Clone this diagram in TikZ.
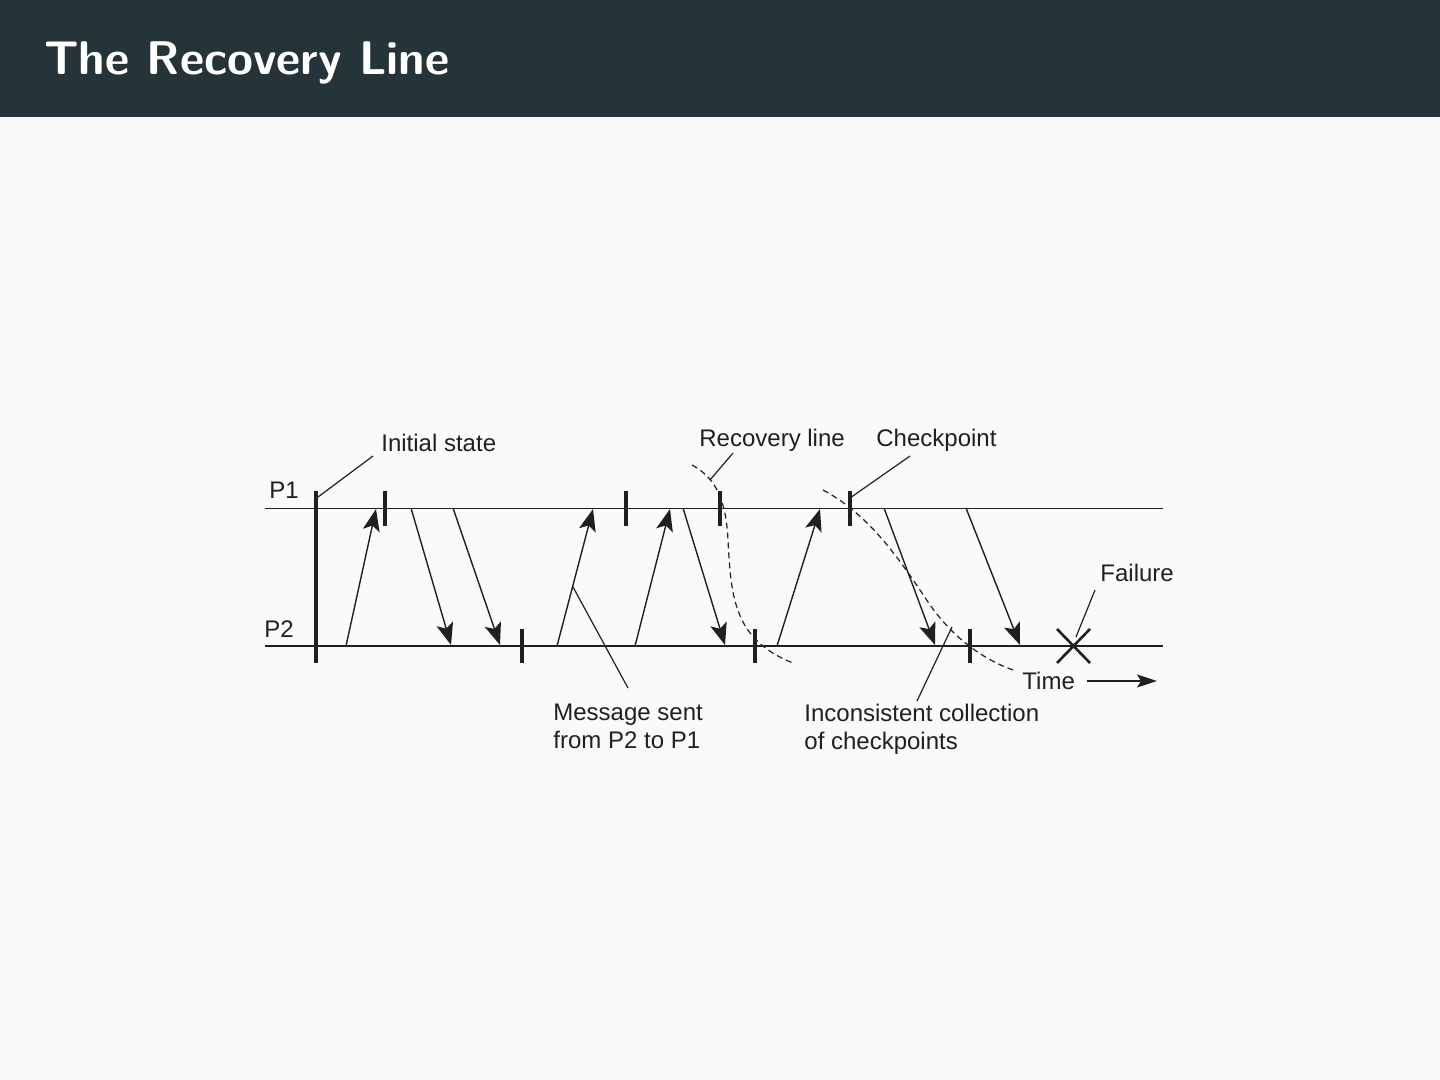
\documentclass[tikz,border=0pt]{standalone}
\usepackage{fontspec}
\setmainfont{Liberation Sans}
\usetikzlibrary{arrows.meta}
\definecolor{barbg}{HTML}{253439}
\definecolor{pagebg}{HTML}{FAFAFA}
\definecolor{ink}{HTML}{231F20}
\begin{document}
\begin{tikzpicture}[x=0.5pt,y=-0.5pt,
  lbl/.style={inner sep=0pt,font=\fontsize{12}{14}\selectfont,text=ink},
  proc/.style={draw=ink,line width=0.5pt},
  proc2/.style={draw=ink,line width=1pt},
  ckpt/.style={draw=ink,line width=1.8pt},
  msg/.style={draw=ink,line width=0.7pt,-{Stealth[length=11pt,width=8.5pt,inset=2.5pt]}},
  lead/.style={draw=ink,line width=0.6pt},
  cut/.style={draw=ink,line width=0.6pt,dash pattern=on 3pt off 2pt}]
\useasboundingbox (0,0) rectangle (1440,1080);
\fill[pagebg] (0,0) rectangle (1440,1080);
\fill[barbg] (0,0) rectangle (1440,117);
\node[anchor=base west,inner sep=0pt,text=white,font=\fontfamily{lmss}\bfseries\fontsize{23.6}{28}\selectfont] (title) at (44,75) {The Recovery Line};

% process lines
\coordinate (p1s) at (265,508); \coordinate (p1e) at (1163,508);
\coordinate (p2s) at (265,646); \coordinate (p2e) at (1163,646);
\draw[proc] (p1s) -- (p1e);
\draw[proc2] (p2s) -- (p2e);
\node[lbl,anchor=west] (P1) at (269,490) {P1};
\node[lbl,anchor=west] (P2) at (264,629) {P2};

% initial state bar
\coordinate (inT) at (316,491); \coordinate (inB) at (316,663);
\draw[ckpt] (inT) -- (inB);

% checkpoints P1
\foreach \x/\n in {385/a,626/b,720/c,850/d}{
  \coordinate (c1\n t) at (\x,491); \coordinate (c1\n b) at (\x,526);
  \draw[ckpt] (c1\n t) -- (c1\n b);}
% checkpoints P2
\foreach \x/\n in {522/a,755/b,970/c}{
  \coordinate (c2\n t) at (\x,629); \coordinate (c2\n b) at (\x,663);
  \draw[ckpt] (c2\n t) -- (c2\n b);}

% messages
\foreach \a/\b/\n in {346/376/m1,557/593/m4,635/670/m5,777/820/m7}{
  \coordinate (\n s) at (\a,646); \coordinate (\n e) at (\b,509);
  \draw[msg] (\n s) -- (\n e);}
\foreach \a/\b/\n in {411/451/m2,453/500/m3,683/725/m6,884/935/m8,966/1020/m9}{
  \coordinate (\n s) at (\a,508); \coordinate (\n e) at (\b,645);
  \draw[msg] (\n s) -- (\n e);}

% failure cross
\coordinate (f1) at (1057,629); \coordinate (f2) at (1090,663);
\coordinate (f3) at (1057,663); \coordinate (f4) at (1090,629);
\draw[draw=ink,line width=1.3pt] (f1) -- (f2) (f3) -- (f4);

% recovery line
\coordinate (rl0) at (692,465); \coordinate (rl1) at (728,540); \coordinate (rl2) at (793,663);
\draw[cut] (rl0) .. controls (716,478) and (726,500) .. (rl1) .. controls (731,600) and (735,640) .. (rl2);
% inconsistent cut
\coordinate (ic0) at (823,490); \coordinate (ic1) at (930,605); \coordinate (ic2) at (1013,670);
\draw[cut] (ic0) .. controls (870,515) and (900,560) .. (ic1) .. controls (955,640) and (985,660) .. (ic2);

% labels
\node[lbl,anchor=west] (init) at (381,443) {Initial state};
\node[lbl,anchor=west] (rec) at (699,440) {Recovery line};
\node[lbl,anchor=west] (chk) at (876,440) {Checkpoint};
\node[lbl,anchor=west] (fail) at (1100,573) {Failure};
\node[lbl,anchor=west] (time) at (1022,681) {Time};
\node[lbl,anchor=north west,align=left] (msgl) at (553,704) {Message sent\\from P2 to P1};
\node[lbl,anchor=north west,align=left] (incl) at (804,704) {Inconsistent collection\\of checkpoints};

% leaders
\coordinate (l1a) at (318,497); \coordinate (l1b) at (373,456);
\draw[lead] (l1a) -- (l1b);
\coordinate (l2a) at (710,480); \coordinate (l2b) at (733,453);
\draw[lead] (l2a) -- (l2b);
\coordinate (l3a) at (850,498); \coordinate (l3b) at (910,456);
\draw[lead] (l3a) -- (l3b);
\coordinate (l4a) at (1076,637); \coordinate (l4b) at (1095,590);
\draw[lead] (l4a) -- (l4b);
\coordinate (l5a) at (573,587); \coordinate (l5b) at (628,688);
\draw[lead] (l5a) -- (l5b);
\coordinate (l6a) at (952,627); \coordinate (l6b) at (917,701);
\draw[lead] (l6a) -- (l6b);

% time arrow
\coordinate (ta) at (1087,681); \coordinate (tb) at (1157,681);
\draw[draw=ink,line width=0.6pt,-{Stealth[length=10pt,width=6.5pt,inset=2pt]}] (ta) -- (tb);
\end{tikzpicture}
\end{document}
